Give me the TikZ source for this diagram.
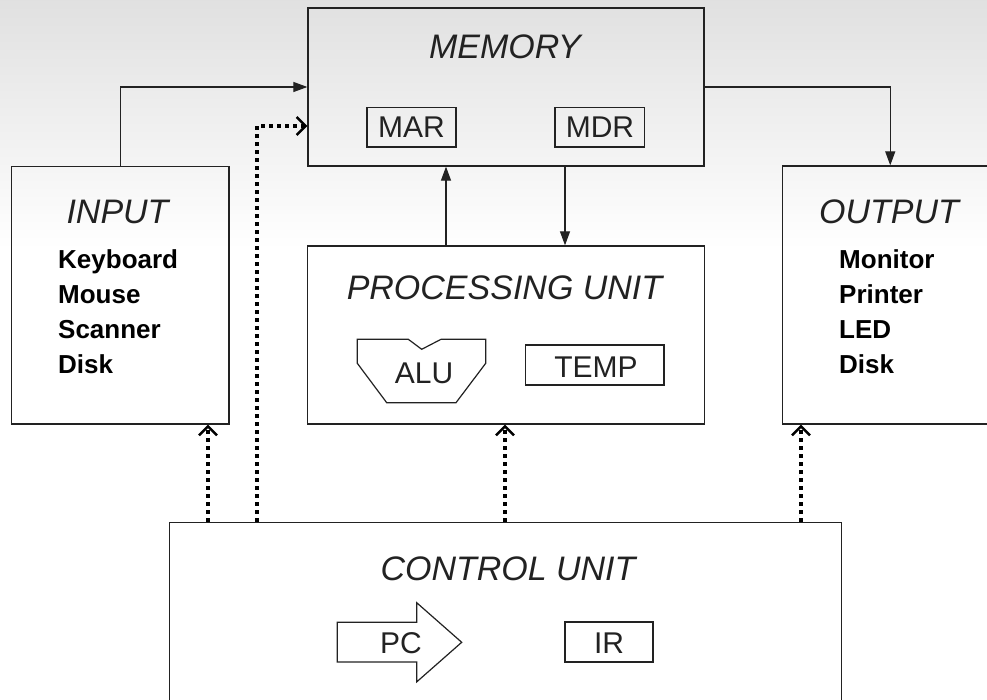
\documentclass[tikz,border=0pt]{standalone}
\usepackage{fontspec}
\setmainfont{Liberation Sans}
\usetikzlibrary{arrows.meta}
\definecolor{ink}{HTML}{222222}
\begin{document}
\begin{tikzpicture}[x=1pt,y=-1pt,
  box/.style={draw=ink, line width=1.3pt, inner sep=0pt, rectangle},
  head/.style={font=\fontsize{34}{40}\selectfont\itshape, text=ink, anchor=base, inner sep=0pt},
  item/.style={font=\fontsize{26}{32}\selectfont\bfseries, text=black, anchor=base west, inner sep=0pt},
  reg/.style={font=\fontsize{30}{36}\selectfont, text=ink, anchor=base, inner sep=0pt},
  shapeline/.style={draw=ink, line width=1.2pt},
  flow/.style={draw=ink, line width=1.2pt, -{Triangle[length=14pt,width=10pt]}},
  ctrl/.style={draw=black, line width=3.6pt, dash pattern=on 3.4pt off 4.6pt, -{Straight Barb[length=9pt,width=18pt,line width=2.4pt]}}
]
\useasboundingbox (0,0) rectangle (987,700);
\fill[white] (0,0) rectangle (987,700);
\shade[top color=black!12, bottom color=white] (0,0) rectangle (987,250);
\clip (0,0) rectangle (987,700);

% boxes
\node[box, minimum width=396pt, minimum height=158pt] (memory) at (506,87) {};
\node[box, minimum width=217.5pt, minimum height=257.5pt] (input) at (120.25,295.25) {};
\node[box, minimum width=215.5pt, minimum height=258pt] (output) at (890.25,295) {};
\node[box, minimum width=397pt, minimum height=178pt] (pu) at (506,335) {};
\node[box, minimum width=672pt, minimum height=187pt] (control) at (505.5,616) {};
\node[box, minimum width=89pt, minimum height=39.5pt] (mar) at (411.5,127.25) {};
\node[box, minimum width=89.5pt, minimum height=39.5pt] (mdr) at (599.75,127.25) {};
\node[box, minimum width=138.5pt, minimum height=40pt] (temp) at (594.75,365) {};
\node[box, minimum width=88pt, minimum height=40pt] (ir) at (609,642) {};

% headings
\node[head] (memt) at (505,59) {MEMORY};
\node[head] (inpt) at (117.5,224) {INPUT};
\node[head] (outt) at (889,224) {OUTPUT};
\node[head] (put) at (504.5,300) {PROCESSING UNIT};
\node[head] (cut) at (508,580) {CONTROL UNIT};

% register labels
\node[reg] (mart) at (411.5,137.5) {MAR};
\node[reg] (mdrt) at (600,137.5) {MDR};
\node[reg] (tempt) at (596,377.5) {TEMP};
\node[reg] (irt) at (609,653.5) {IR};

% lists
\node[item] (i1) at (58,269) {Keyboard};
\node[item] (i2) at (58,303.5) {Mouse};
\node[item] (i3) at (58,338) {Scanner};
\node[item] (i4) at (58,373) {Disk};
\node[item] (o1) at (839,269) {Monitor};
\node[item] (o2) at (839,303.5) {Printer};
\node[item] (o3) at (839,338) {LED};
\node[item] (o4) at (839,373) {Disk};

% ALU shape
\draw[shapeline] (357.3,339.3) -- (408.3,339.3) -- (421.7,349.3) -- (441,339.3) -- (485.7,339.3)
  -- (485.7,363.3) -- (456,402.7) -- (386.7,402.7) -- (357.3,363.3) -- cycle;
\node[reg] (alut) at (424,383) {ALU};

% PC arrow shape
\draw[shapeline] (337.3,622.3) -- (416.7,622.3) -- (416.7,602.7) -- (461.7,642.3)
  -- (416.7,681.9) -- (416.7,662) -- (337.3,662) -- cycle;
\node[reg] (pct) at (401,653) {PC};

% data flow
\coordinate (xu) at (446,0);
\coordinate (xd) at (565,0);
\draw[flow] (input.north) |- (memory.west);
\draw[flow] (memory.east) -| (output.north);
\draw[flow] (pu.north -| xu) -- (memory.south -| xu);
\draw[flow] (memory.south -| xd) -- (pu.north -| xd);

% control signals
\coordinate (c1) at (208,0);
\coordinate (c2) at (257,126);
\coordinate (c3) at (505,0);
\coordinate (c4) at (801,0);
\draw[ctrl] (control.north -| c1) -- (input.south -| c1);
\draw[ctrl] (control.north -| c2) -- (c2) -- (memory.west |- c2);
\draw[ctrl] (control.north -| c3) -- (pu.south -| c3);
\draw[ctrl] (control.north -| c4) -- (output.south -| c4);
\end{tikzpicture}
\end{document}
